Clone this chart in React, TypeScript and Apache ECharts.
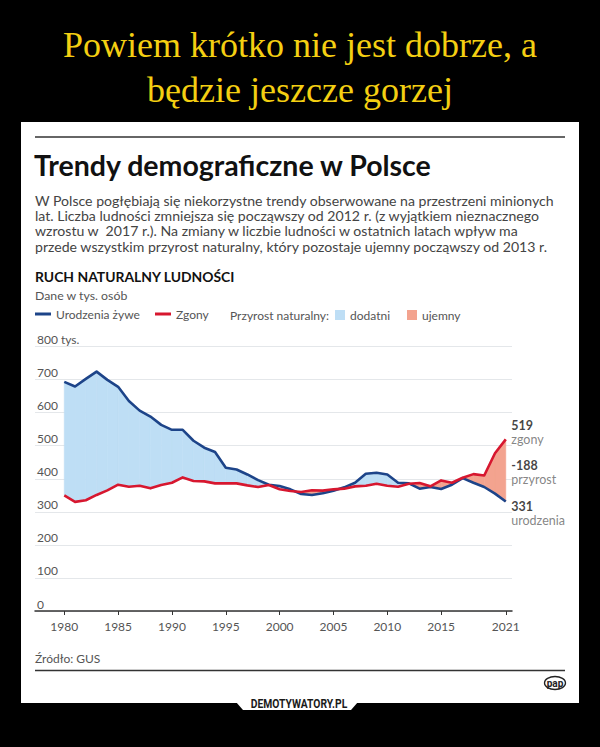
import React, { useEffect, useRef } from 'react';
import * as echarts from 'echarts';

const years = [1980, 1981, 1982, 1983, 1984, 1985, 1986, 1987, 1988, 1989, 1990, 1991, 1992, 1993, 1994, 1995, 1996, 1997, 1998, 1999, 2000, 2001, 2002, 2003, 2004, 2005, 2006, 2007, 2008, 2009, 2010, 2011, 2012, 2013, 2014, 2015, 2016, 2017, 2018, 2019, 2020, 2021];
const births = [693, 679, 702, 724, 699, 678, 635, 606, 588, 563, 548, 548, 515, 494, 481, 433, 428, 413, 396, 382, 378, 368, 354, 351, 356, 364, 374, 388, 415, 418, 413, 388, 386, 370, 375, 369, 382, 402, 388, 375, 355, 331];
const deaths = [350, 330, 335, 351, 365, 382, 376, 379, 371, 381, 388, 404, 393, 392, 386, 386, 386, 380, 375, 381, 368, 363, 360, 365, 364, 368, 370, 377, 379, 385, 379, 376, 385, 387, 377, 395, 388, 403, 414, 410, 477, 519];
const xTicks = [1980, 1985, 1990, 1995, 2000, 2005, 2010, 2015, 2021];
const yMax = 800;
const yStep = 100;

const FONT = "Lato, 'Noto Sans', sans-serif";
const BLUE = '#1d4489';
const RED = '#d7172f';
const FILL_POS = '#bedef5';
const FILL_NEG = '#f3a38f';

const bodyLines = [
  'W Polsce pogłębiają się niekorzystne trendy obserwowane na przestrzeni minionych',
  'lat. Liczba ludności zmniejsza się począwszy od 2012 r. (z wyjątkiem nieznacznego',
  'wzrostu w  2017 r.). Na zmiany w liczbie ludności w ostatnich latach wpływ ma',
  'przede wszystkim przyrost naturalny, który pozostaje ujemny począwszy od 2013 r.',
];

export default function App() {
  const ref = useRef<HTMLDivElement>(null);
  useEffect(() => {
    const chart = echarts.init(ref.current!, null, { renderer: 'svg' });
    const n = years.length;
    const segs = years.slice(0, -1).map((y, i) => [y, births[i], deaths[i], years[i + 1], births[i + 1], deaths[i + 1]]);
    const makeFill = (sign: number, color: string) => (params: any, api: any) => {
      const x0 = api.value(0), b0 = api.value(1), d0 = api.value(2);
      const x1 = api.value(3), b1 = api.value(4), d1 = api.value(5);
      const s0 = sign * (b0 - d0), s1 = sign * (b1 - d1);
      let pts: number[][] | null = null;
      if (s0 >= 0 && s1 >= 0) {
        pts = [[x0, b0], [x1, b1], [x1, d1], [x0, d0]];
      } else if (s0 > 0 || s1 > 0) {
        const t = s0 / (s0 - s1);
        const xc = x0 + t * (x1 - x0);
        const yc = b0 + t * (b1 - b0);
        pts = s0 > 0 ? [[x0, b0], [xc, yc], [x0, d0]] : [[xc, yc], [x1, b1], [x1, d1]];
      }
      if (!pts) return { type: 'group', children: [] };
      return {
        type: 'polygon',
        shape: { points: pts.map((p) => api.coord(p)) },
        style: { fill: color, stroke: color, lineWidth: 0.6 },
      };
    };
    const lastB = births[n - 1];
    const lastD = deaths[n - 1];
    const lastYear = years[n - 1];

    const txt = (x: number, y: number, text: string, style: any, extra: any = {}) => ({
      type: 'text', x, y, ...extra,
      style: { text, fontFamily: FONT, textVerticalAlign: 'middle', ...style },
    });

    const legendText = { color: '#555', fontSize: 12, fontFamily: FONT };
    const lineLegend = (name: string, left: number) => ({
      left, top: 308, padding: 0, itemWidth: 16, itemHeight: 3, icon: 'rect', selectedMode: false,
      textStyle: legendText, data: [name],
    });
    const boxLegend = (name: string, left: number) => ({
      left, top: 309, padding: 0, itemWidth: 10, itemHeight: 10, icon: 'rect', selectedMode: false,
      textStyle: legendText, data: [name],
    });

    const option: any = {
      animation: false,
      backgroundColor: '#000',
      textStyle: { fontFamily: FONT },
      grid: { left: 35, right: 88, top: 346.5, bottom: 136, containLabel: false },
      xAxis: {
        type: 'value',
        min: 1977.28,
        max: 2021.58,
        axisLine: { show: true, lineStyle: { color: '#333', width: 1.5 } },
        axisTick: { show: true, customValues: xTicks, length: 4, lineStyle: { color: '#333', width: 1 } },
        axisLabel: { customValues: xTicks, color: '#555', fontSize: 12, margin: 9, fontFamily: FONT, formatter: (v: number) => String(v) },
        splitLine: { show: false },
      },
      yAxis: {
        type: 'value',
        min: 0,
        max: yMax,
        interval: yStep,
        axisLine: { show: false },
        axisTick: { show: false },
        axisLabel: {
          inside: true,
          margin: 2,
          verticalAlign: 'bottom',
          padding: [0, 0, 1, 0],
          color: '#555',
          fontSize: 12,
          fontFamily: FONT,
          formatter: (v: number) => (v === yMax ? `${v} tys.` : String(v)),
        },
        splitLine: { show: true, lineStyle: { color: '#e4e7ea', width: 1 } },
      },
      legend: [
        lineLegend('Urodzenia żywe', 35),
        lineLegend('Zgony', 155),
        boxLegend('dodatni', 335),
        boxLegend('ujemny', 407),
      ],
      series: [
        {
          name: 'dodatni', type: 'custom', z: 1, silent: true,
          itemStyle: { color: FILL_POS },
          renderItem: makeFill(1, FILL_POS),
          encode: { x: [0, 3], y: [1, 2, 4, 5] },
          data: segs,
        },
        {
          name: 'ujemny', type: 'custom', z: 1, silent: true,
          itemStyle: { color: FILL_NEG },
          renderItem: makeFill(-1, FILL_NEG),
          encode: { x: [0, 3], y: [1, 2, 4, 5] },
          data: segs,
        },
        {
          name: 'Urodzenia żywe', type: 'line', z: 3, showSymbol: false, symbol: 'none',
          color: BLUE,
          lineStyle: { color: BLUE, width: 2.6, join: 'round' },
          data: years.map((y, i) => [y, births[i]]),
        },
        {
          name: 'Zgony', type: 'line', z: 4, showSymbol: false, symbol: 'none',
          color: RED,
          lineStyle: { color: RED, width: 2.6, join: 'round' },
          data: years.map((y, i) => [y, deaths[i]]),
        },
        {
          name: 'labels', type: 'scatter', z: 5, silent: true, symbolSize: 1,
          itemStyle: { color: 'rgba(0,0,0,0)' },
          label: {
            show: true, position: 'right', distance: 5,
            rich: {
              v: { fontSize: 12.5, fontWeight: 'bold', color: '#111', fontFamily: FONT, lineHeight: 14 },
              t: { fontSize: 12.5, color: '#666', fontFamily: FONT, lineHeight: 14 },
            },
          },
          data: [
            { value: [lastYear, lastD], label: { formatter: `{v|${lastD}}\n{t|zgony}`, offset: [0, -7] } },
            { value: [lastYear, (lastB + lastD) / 2], label: { formatter: `{v|${lastB - lastD}}\n{t|przyrost}`, offset: [0, 2.5] } },
            { value: [lastYear, lastB], label: { formatter: `{v|${lastB}}\n{t|urodzenia}`, offset: [0, 12] } },
          ],
        },
      ],
      graphic: [
        { type: 'rect', z: -10, shape: { x: 21, y: 122, width: 558, height: 581 }, style: { fill: '#fff' } },
        { type: 'polygon', z: -10, shape: { points: [[236, 702], [358, 702], [351, 710], [243, 710]] }, style: { fill: '#fff' } },
        txt(0, 0, 'DEMOTYWATORY.PL', { fill: '#1a1a1a', fontSize: 12, fontWeight: 'bold', textAlign: 'center', fontFamily: "Roboto, sans-serif" }, { x: 299, y: 704, scaleX: 0.86 }),
        txt(300, 45, 'Powiem krótko nie jest dobrze, a', { fill: '#f4cf12', fontSize: 36, textAlign: 'center', fontFamily: "'Liberation Serif', 'DejaVu Serif', serif" }),
        txt(300, 90, 'będzie jeszcze gorzej', { fill: '#f4cf12', fontSize: 36, textAlign: 'center', fontFamily: "'Liberation Serif', 'DejaVu Serif', serif" }),
        { type: 'line', shape: { x1: 35, y1: 137, x2: 565, y2: 137 }, style: { stroke: '#333', lineWidth: 1.5 } },
        txt(34, 165, 'Trendy demograficzne w Polsce', { fill: '#111', fontSize: 28.5, fontWeight: 'bold' }),
        ...bodyLines.map((l, i) => txt(35, 200 + i * 15.4, l, { fill: '#444', fontSize: 14.1 })),
        txt(35, 276, 'RUCH NATURALNY LUDNOŚCI', { fill: '#111', fontSize: 13.9, fontWeight: 'bold' }),
        txt(35, 295.5, 'Dane w tys. osób', { fill: '#555', fontSize: 12.3 }),
        txt(230, 315, 'Przyrost naturalny:', { fill: '#555', fontSize: 12 }),
        txt(35, 658, 'Źródło: GUS', { fill: '#555', fontSize: 12 }),
        { type: 'line', shape: { x1: 35, y1: 670.5, x2: 565, y2: 670.5 }, style: { stroke: '#333', lineWidth: 1.3 } },
        { type: 'ellipse', shape: { cx: 555, cy: 683, rx: 10.5, ry: 6.5 }, style: { fill: '#fff', stroke: '#222', lineWidth: 1.3 } },
        txt(555, 683, 'pap', { fill: '#222', fontSize: 10, fontWeight: 'bold', textAlign: 'center', fontFamily: 'Roboto, sans-serif' }),
      ],
    };
    chart.setOption(option);
    return () => chart.dispose();
  }, []);
  return <div ref={ref} style={{ position: 'absolute', left: 0, top: 0, width: 600, height: 747 }} />;
}
